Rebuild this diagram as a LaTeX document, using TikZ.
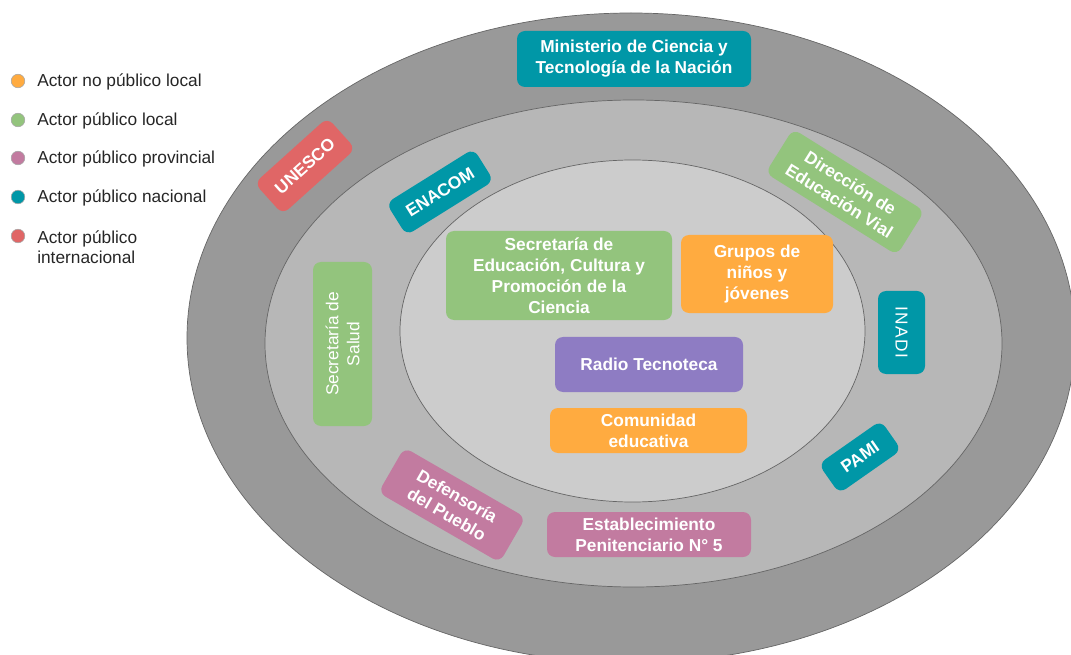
\documentclass[tikz,border=0pt]{standalone}
\usepackage{fontspec}
\setmainfont{Liberation Sans}
\definecolor{teal}{HTML}{0097A7}
\definecolor{rojo}{HTML}{E06666}
\definecolor{verde}{HTML}{93C47D}
\definecolor{naranja}{HTML}{FFAB40}
\definecolor{violeta}{HTML}{8E7CC3}
\definecolor{rosa}{HTML}{C27BA0}
\definecolor{gris1}{HTML}{999999}
\definecolor{gris2}{HTML}{B7B7B7}
\definecolor{gris3}{HTML}{CCCCCC}
\begin{document}
\begin{tikzpicture}[x=0.25mm, y=-0.25mm, line join=round,
    actor/.style={rounded corners=2mm, text=white, align=center, inner sep=0pt,
        font=\fontsize{12.3}{14.9}\selectfont\bfseries},
    thin actor/.style={actor, font=\fontsize{12.3}{14.9}\selectfont},
    ring/.style={draw=black!60, line width=0.5pt},
    dot/.style={circle, draw=gray!70, line width=0.4pt, minimum size=3.4mm, inner sep=0pt},
    legend/.style={anchor=west, align=left, inner sep=0pt, text=black!85,
        font=\fontsize{12.3}{14.9}\selectfont}]
    \useasboundingbox (0,0) rectangle (1071,655);
    \begin{scope}
        \clip (0,0) rectangle (1071,655);
        % anillos
        \draw[ring, fill=gris1] (631,338) ellipse (444 and 325);
        \draw[ring, fill=gris2] (633.5,343.5) ellipse (368.5 and 243.5);
        \draw[ring, fill=gris3] (632.5,331) ellipse (232.5 and 171);
    \end{scope}
    % leyenda
    \node[dot, fill=naranja] (d1) at (18,81) {};
    \node[dot, fill=verde] (d2) at (18,120) {};
    \node[dot, fill=rosa] (d3) at (18,158) {};
    \node[dot, fill=teal] (d4) at (18,197) {};
    \node[dot, fill=rojo] (d5) at (18,236) {};
    \node[legend] (l1) at (37,82) {Actor no público local};
    \node[legend] (l2) at (37,121) {Actor público local};
    \node[legend] (l3) at (37,159) {Actor público provincial};
    \node[legend] (l4) at (37,198) {Actor público nacional};
    \node[legend, anchor=north west] (l5) at (37,230) {Actor público\\internacional};
    % actores
    \node[actor, fill=teal, minimum width=58.5mm, minimum height=14mm] (mct) at (634,59)
        {Ministerio de Ciencia y\\Tecnología de la Nación};
    \node[actor, fill=rojo, minimum width=24.5mm, minimum height=10.5mm, rotate=42] (unesco) at (305,166) {UNESCO};
    \node[actor, fill=teal, minimum width=25.75mm, minimum height=9.5mm, rotate=32] (enacom) at (440,192) {ENACOM};
    \node[actor, fill=verde, minimum width=38.75mm, minimum height=13mm, rotate=-32] (vial) at (845,192)
        {Dirección de\\Educación Vial};
    \node[thin actor, fill=verde, minimum width=41mm, minimum height=14.75mm, rotate=90] (salud) at (342.5,344)
        {Secretaría de\\Salud};
    \node[actor, fill=verde, minimum width=56.5mm, minimum height=22.25mm] (secre) at (559,275.5)
        {Secretaría de\\Educación, Cultura y\\Promoción de la\\Ciencia};
    \node[actor, fill=naranja, minimum width=38mm, minimum height=19.5mm] (grupos) at (757,274)
        {Grupos de\\niños y\\jóvenes};
    \node[actor, fill=violeta, minimum width=47mm, minimum height=13.75mm] (radio) at (649,364.5) {Radio Tecnoteca};
    \node[actor, fill=naranja, minimum width=49.25mm, minimum height=11.25mm] (comun) at (648.5,430.5)
        {Comunidad\\educativa};
    \node[actor, fill=rosa, minimum width=51mm, minimum height=11.25mm] (penit) at (649,534.5)
        {Establecimiento\\Penitenciario N° 5};
    \node[actor, fill=rosa, minimum width=35mm, minimum height=13mm, rotate=-30] (defensa) at (452,505)
        {Defensoría\\del Pueblo};
    \node[thin actor, fill=teal, minimum width=20.75mm, minimum height=11.75mm, rotate=-90] (inadi) at (901.5,332.5)
        {\addfontfeature{LetterSpace=8}INADI};
    \node[actor, fill=teal, minimum width=19mm, minimum height=9mm, rotate=35] (pami) at (860,457) {PAMI};
\end{tikzpicture}
\end{document}
